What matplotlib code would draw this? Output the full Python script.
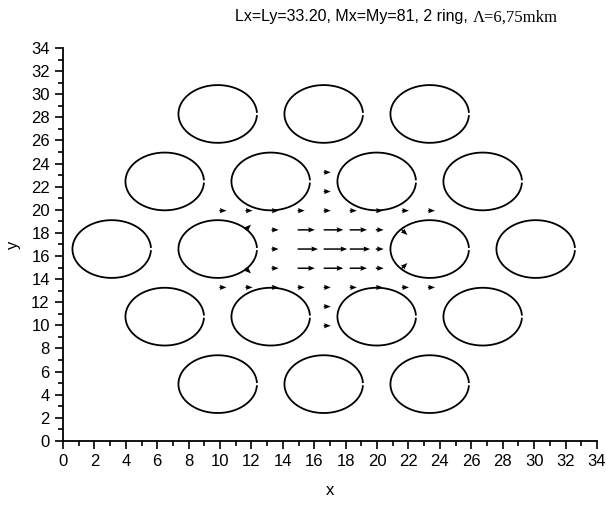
import numpy as np
import matplotlib
matplotlib.use("Agg")
from matplotlib import pyplot as plt
from matplotlib.ticker import MultipleLocator

plt.rcParams['font.family'] = ['Liberation Sans', 'DejaVu Sans']

# holes of the 2-ring hexagonal lattice (centre x, centre y), radius
hole_x = [9.85, 16.6, 23.35,
          6.475, 13.225, 19.975, 26.725,
          3.1, 9.85, 23.35, 30.1,
          6.475, 13.225, 19.975, 26.725,
          9.85, 16.6, 23.35]
hole_y = [28.29, 28.29, 28.29,
          22.45, 22.45, 22.45, 22.45,
          16.6, 16.6, 16.6, 16.6,
          10.75, 10.75, 10.75, 10.75,
          4.91, 4.91, 4.91]
hole_r = 2.5

# field vectors (tail x, tail y, u, v) in data units
arr_x = [9.96, 11.62, 13.28, 14.94, 16.6, 18.26, 19.92, 21.58, 23.24,
         11.62, 13.28, 14.94, 16.6, 18.26, 19.92, 21.58,
         13.28, 14.94, 16.6, 18.26, 19.92,
         11.62, 13.28, 14.94, 16.6, 18.26, 19.92, 21.58,
         9.96, 11.62, 13.28, 14.94, 16.6, 18.26, 19.92, 21.58, 23.24,
         16.6, 16.6, 16.6, 16.6]
arr_y = [19.92] * 9 + [18.26] * 7 + [16.6] * 5 + [14.94] * 7 + [13.28] * 9 + \
        [23.24, 21.58, 11.62, 9.96]
arr_u = [0.45] * 9 + \
        [0.35, 0.45, 1.1, 1.25, 1.1, 0.5, 0.35] + \
        [0.45, 1.3, 1.5, 1.3, 0.5] + \
        [0.35, 0.45, 1.1, 1.25, 1.1, 0.5, 0.35] + \
        [0.45] * 9 + [0.45] * 4
arr_v = [0.0] * 9 + \
        [0.45, 0, 0, 0, 0, 0, -0.45] + \
        [0, 0, 0, 0, 0] + \
        [-0.45, 0, 0, 0, 0, 0, 0.45] + \
        [0.0] * 9 + [0.0] * 4

fig = plt.figure(figsize=(6.06, 5.05), dpi=100)
ax = fig.add_axes([0.104, 0.127, 0.881, 0.778])

t = np.linspace(0.07, 2 * np.pi - 0.07, 200)
for cx, cy in zip(hole_x, hole_y):
    ax.plot(cx + hole_r * np.cos(t), cy + hole_r * np.sin(t), color='black', lw=1.3)

ax.quiver(arr_x, arr_y, arr_u, arr_v, angles='xy', scale_units='xy', scale=1,
          pivot='tail', color='black', width=0.0028, headwidth=3.5,
          headlength=4.5, headaxislength=4)

ax.set_xlim(0, 34)
ax.set_ylim(0, 34)
ax.xaxis.set_major_locator(MultipleLocator(2))
ax.xaxis.set_minor_locator(MultipleLocator(1))
ax.yaxis.set_major_locator(MultipleLocator(2))
ax.yaxis.set_minor_locator(MultipleLocator(1))
ax.tick_params(which='major', direction='out', length=6, width=1.2, labelsize=12)
ax.tick_params(which='minor', direction='out', length=3.5, width=1.2)
ax.spines['top'].set_visible(False)
ax.spines['right'].set_visible(False)
ax.spines['left'].set_linewidth(1.3)
ax.spines['bottom'].set_linewidth(1.3)
ax.set_xlabel('x', fontsize=12, labelpad=10)
ax.set_ylabel('y', fontsize=12, labelpad=7)

fig.text(468 / 606, 0.968, 'Lx=Ly=33.20, Mx=My=81, 2 ring,', ha='right', va='center',
         fontsize=11.5)
fig.text(473 / 606, 0.966, '\u039b=6,75mkm', ha='left', va='center', fontsize=12,
         family=['Liberation Serif', 'DejaVu Serif'])

fig.savefig('out.png', dpi=100)
